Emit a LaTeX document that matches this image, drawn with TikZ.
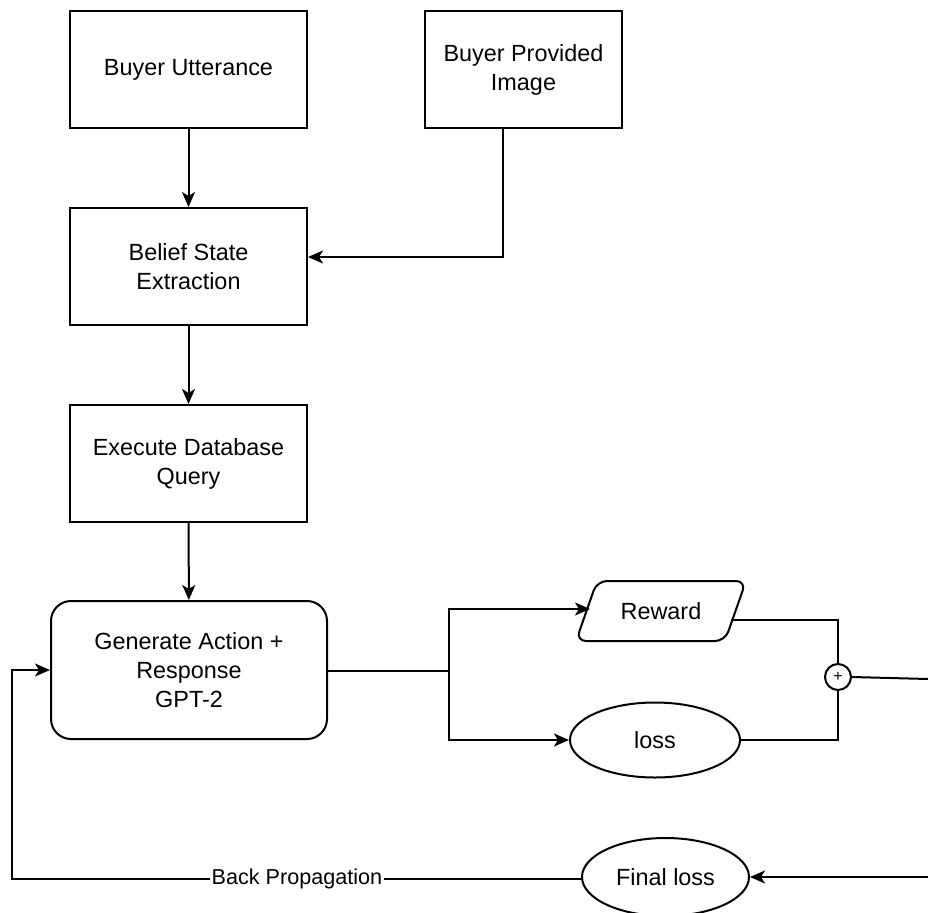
\documentclass[tikz,border=0pt]{standalone}
\usepackage{fontspec}
\setmainfont{Liberation Sans}
\usetikzlibrary{arrows.meta,shapes.geometric,calc}
\begin{document}
\begin{tikzpicture}[x=0.5pt,y=-0.5pt,
  line width=1pt,
  every node/.style={font=\fontsize{11.7}{14.5}\selectfont, align=center, inner sep=0pt},
  procbox/.style={draw, minimum width=118.5pt, minimum height=58.5pt},
  genbox/.style={draw, rounded corners=10pt, minimum width=138pt, minimum height=69pt},
  ell/.style={draw, ellipse},
  paraarea/.style={minimum width=84pt, minimum height=29pt},
  sumnode/.style={draw, circle, minimum size=13pt, font=\fontsize{8}{9}\selectfont},
  arr/.style={-{Stealth[length=7.5pt,width=6.5pt,inset=2pt]}},
  lbl/.style={fill=white, inner sep=1pt, font=\fontsize{10.8}{13}\selectfont}
]
\clip (0,0) rectangle (928,912);
\node[procbox] (utt) at (188.5,69.5) {Buyer Utterance};
\node[procbox, minimum width=98.5pt] (img) at (523.5,69.5) {Buyer Provided\\Image};
\node[procbox] (belief) at (188.5,266.5) {Belief State\\Extraction};
\node[procbox] (query) at (188.5,463.5) {Execute Database\\Query};
\node[genbox] (gen) at (189,670) {Generate Action +\\Response\\GPT-2};
\node[paraarea] (reward) at (661,611) {Reward};
\draw[rounded corners=5pt] ($(reward.north west)+(21,0)$) -- (reward.north east)
  -- ($(reward.south east)+(-21,0)$) -- (reward.south west) -- cycle;
\node[ell, minimum width=85pt, minimum height=37.5pt] (loss) at (655,740) {loss};
\node[sumnode] (sum) at (838,677) {+};
\node[ell, minimum width=83.5pt, minimum height=39pt] (final) at (665.5,877) {Final loss};
\coordinate (split) at (449,671);
\coordinate (rewardout) at (731,620);
\coordinate (rightout) at (928,679);
\coordinate (rightin) at (928,877);
\coordinate (bpcorner) at (12,879);

\draw[arr] (utt) -- (belief);
\draw[arr] (img.south -| 503,0) |- (belief.east |- 0,257);
\draw[arr] (belief) -- (query);
\draw[arr] (query) -- (gen);
\draw (gen.east |- split) -- (split);
\draw[arr] (split) |- (590,609);
\draw[arr] (split) |- (loss.west);
\draw (rewardout) -| (sum.north);
\draw (loss.east) -| (sum.south);
\draw (sum.east) -- (rightout);
\draw[arr] (rightin) -- (final.east);
\draw[arr] (final.west |- bpcorner) -- (bpcorner) |- (gen.west);
\node[lbl] (bplabel) at (297,879) {Back Propagation};
\end{tikzpicture}
\end{document}
